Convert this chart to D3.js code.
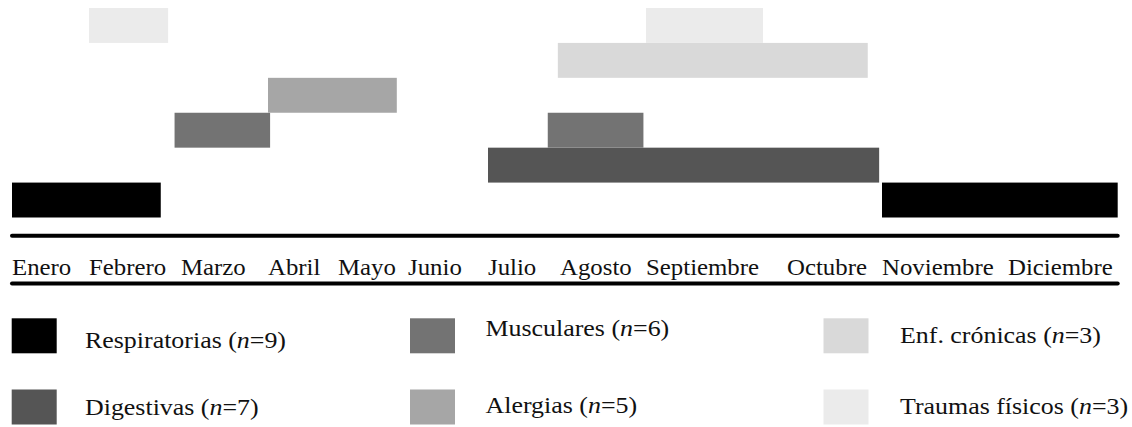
<!DOCTYPE html>
<html>
<head>
<meta charset="utf-8">
<script src="https://cdn.jsdelivr.net/npm/d3@7"></script>
<style>
  html, body { margin: 0; padding: 0; background: #fff; }
  svg { display: block; }
  text { font-family: "Liberation Serif", "Times New Roman", serif; fill: #111; }
</style>
</head>
<body>
<svg id="chart" width="1132" height="427"></svg>
<script>
// ---- data ----
const months = ["Enero", "Febrero", "Marzo", "Abril", "Mayo", "Junio", "Julio",
                "Agosto", "Septiembre", "Octubre", "Noviembre", "Diciembre"];
const categories = ["Respiratorias", "Digestivas", "Musculares", "Alergias", "Enf. crónicas", "Traumas físicos"];
const counts = [9, 7, 6, 5, 3, 3];
// periods per category, in month units (0 = start of Enero, 12 = end of Diciembre)
const respiratorias = [[0, 1.78], [10, 12]];
const digestivas = [[6, 9.97]];
const musculares = [[1.93, 3.03], [6.83, 7.97]];
const alergias = [[3.0, 4.84]];
const enfCronicas = [[6.97, 9.85]];
const traumasFisicos = [[1, 1.86], [8, 8.83]];
const periods = [respiratorias, digestivas, musculares, alergias, enfCronicas, traumasFisicos];

// ---- styles / layout ----
const colors = ["#000000", "#555555", "#737373", "#a6a6a6", "#d9d9d9", "#ebebeb"];
const labelStarts = [12, 89, 181, 268, 338, 408, 488, 560, 646, 787, 882, 1008];
const axisEnd = 1117.7;
const stretch = 1.08;

const svg = d3.select("#chart");

const x = d3.scaleLinear()
  .domain(d3.range(13))
  .range(labelStarts.concat([axisEnd]));

const y = d3.scaleBand()
  .domain(categories.slice().reverse())
  .range([8, 217.5])
  .padding(0);

const color = d3.scaleOrdinal().domain(categories).range(colors);

const bars = [];
categories.forEach((c, i) => periods[i].forEach(p => bars.push({cat: c, start: p[0], end: p[1]})));

svg.append("g").selectAll("rect").data(bars).join("rect")
  .attr("x", d => x(d.start))
  .attr("y", d => y(d.cat))
  .attr("width", d => x(d.end) - x(d.start))
  .attr("height", y.bandwidth())
  .attr("fill", d => color(d.cat));

// axis rules
[235.7, 283.5].forEach(yy => {
  svg.append("line")
    .attr("x1", x(0)).attr("x2", x(12))
    .attr("y1", yy).attr("y2", yy)
    .attr("stroke", "#000").attr("stroke-width", 4)
    .attr("stroke-linecap", "round");
});

// month labels
svg.append("g").selectAll("text").data(months).join("text")
  .attr("transform", (d, i) => `translate(${x(i)},275) scale(${stretch},1)`)
  .style("font-size", "23px")
  .text(d => d);

// legend
const legendCols = [{sx: 11.7, tx: 85}, {sx: 410, tx: 485.5}, {sx: 823.5, tx: 900}];
const legendRows = [{sy: 318.3}, {sy: 389.5}];
const legendBaselines = [348.3, 415, 336, 413, 343, 414];
const legend = svg.append("g");
categories.forEach((c, i) => {
  const col = legendCols[Math.floor(i / 2)];
  const row = legendRows[i % 2];
  legend.append("rect")
    .attr("x", col.sx).attr("y", row.sy)
    .attr("width", 45).attr("height", 35)
    .attr("fill", color(c));
  const t = legend.append("text")
    .attr("transform", `translate(${col.tx},${legendBaselines[i]}) scale(${stretch},1)`)
    .style("font-size", "24px");
  t.append("tspan").text(c + " (");
  t.append("tspan").style("font-style", "italic").text("n");
  t.append("tspan").text("=" + counts[i] + ")");
});
</script>
</body>
</html>
